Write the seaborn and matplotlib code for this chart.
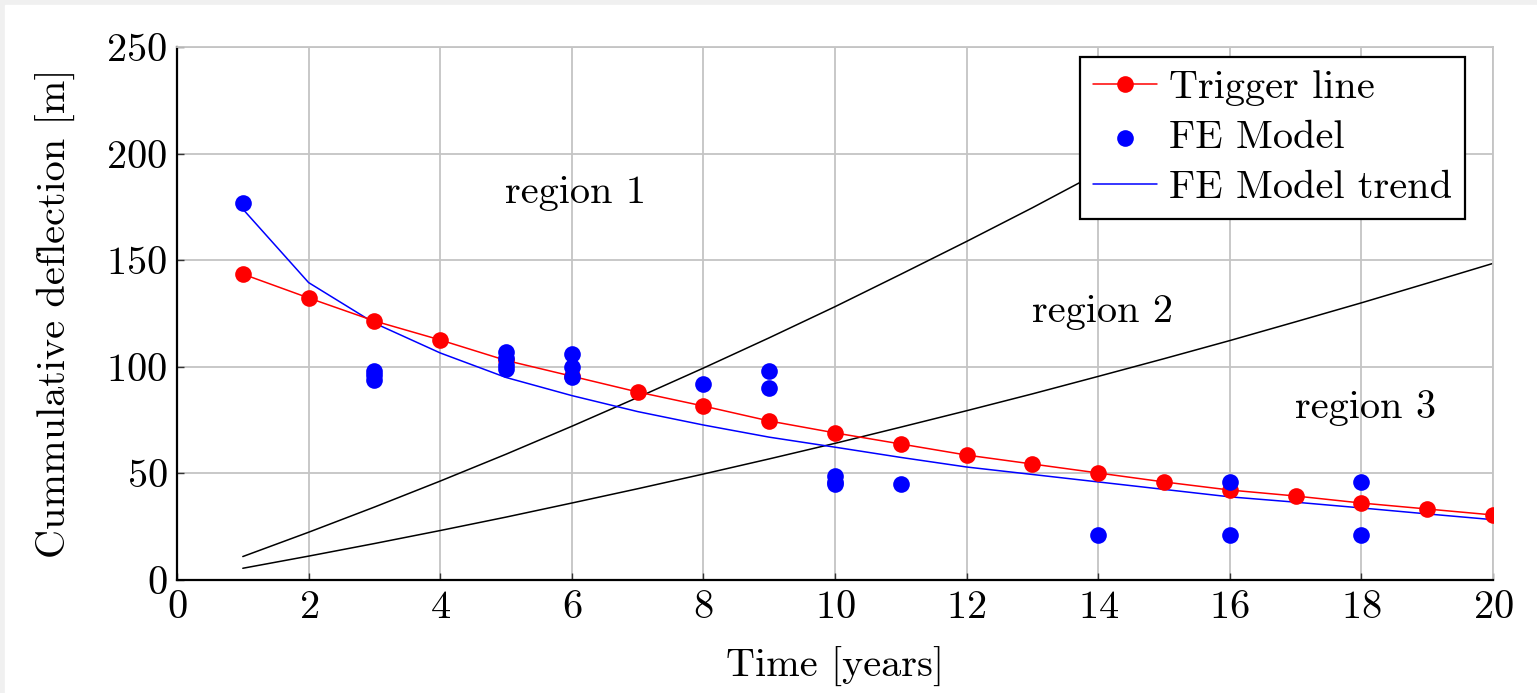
import numpy as np
import pandas as pd
import matplotlib
matplotlib.use("Agg")
import matplotlib.pyplot as plt
import seaborn as sns

# trigger line (red)
years = list(range(1, 21))
trigger = [143.5, 132.3, 121.5, 112.6, 103.0, 95.6, 88.2, 81.6, 74.6, 69.0,
           63.8, 58.6, 54.4, 50.2, 46.0, 42.2, 39.4, 36.1, 33.3, 30.5]

# FE model points (blue)
fe_x = [1, 3, 3, 3, 5, 5, 5, 5, 6, 6, 6, 8, 9, 9, 10, 10, 10, 11, 14, 16, 16, 18, 18]
fe_y = [177, 98, 96, 94, 107, 104, 101, 99, 106, 100, 95, 92, 98, 90, 49, 46, 45, 45, 21, 46, 21, 46, 21]

# FE model trend (blue line)
trend = [174, 139.5, 120.5, 106.5, 95.0, 86.5, 79.0, 72.7, 67.0, 62.3,
         57.5, 53.0, 49.5, 46.0, 42.5, 39.0, 36.5, 33.8, 31.0, 28.3]

# region boundaries (black); the upper one disappears behind the legend
bound_low = [5.5, 11.2, 17.1, 23.2, 29.5, 36.1, 42.8, 49.7, 56.8, 64.1,
             71.7, 79.4, 87.3, 95.5, 103.8, 112.3, 121.1, 130.0, 139.2, 148.5]
bound_high_x = list(range(1, 18))
bound_high = [11.0, 22.4, 34.2, 46.4, 59.0, 72.1, 85.6, 99.4, 113.6, 128.2,
              143.4, 158.8, 174.6, 191.0, 207.6, 224.6, 242.2]

regions = ["region 1", "region 2", "region 3"]
region_x = [6.06, 14.06, 18.07]
region_y = [181.5, 125.7, 80.7]

sns.set_style("whitegrid")
plt.rcParams["font.family"] = ["cmr10", "DejaVu Serif"]
plt.rcParams["axes.formatter.use_mathtext"] = True
plt.rcParams["mathtext.fontset"] = "cm"
plt.rcParams["text.color"] = "black"
plt.rcParams["axes.labelcolor"] = "black"
plt.rcParams["xtick.color"] = "black"
plt.rcParams["ytick.color"] = "black"

fig = plt.figure(figsize=(15.37, 6.93), dpi=100, facecolor="#f0f0f0")
bg = plt.Rectangle((5 / 1537, 0), 1, (693 - 5) / 693, transform=fig.transFigure,
                   color="white", zorder=-10)
fig.patches.append(bg)
ax = fig.add_axes([177 / 1537, 113 / 693, 1316 / 1537, 533 / 693])
ax.set_facecolor("white")

fs = 29
sns.lineplot(x=bound_high_x, y=bound_high, ax=ax, color="black", linewidth=1.1, zorder=2)
sns.lineplot(x=years, y=bound_low, ax=ax, color="black", linewidth=1.1, zorder=2)
sns.lineplot(x=years, y=trigger, ax=ax, color="red", linewidth=1.1, marker="o",
             markersize=12, markeredgewidth=0, label="Trigger line", zorder=4)
sns.scatterplot(x=fe_x, y=fe_y, ax=ax, color="blue", s=144, linewidth=0,
                label="FE Model", zorder=5)
sns.lineplot(x=years, y=trend, ax=ax, color="blue", linewidth=1.1,
             label="FE Model trend", zorder=3)

for name, rx, ry in zip(regions, region_x, region_y):
    ax.text(rx, ry, name, fontsize=fs, ha="center", va="center")

ax.set_xlim(0, 20)
ax.set_ylim(0, 250)
ax.set_xticks(range(0, 21, 2))
ax.set_yticks(range(0, 251, 50))
ax.grid(True, color="#c4c4c4", linewidth=1.3)
for side in ["top", "right"]:
    ax.spines[side].set_color("#c4c4c4")
    ax.spines[side].set_linewidth(1.3)
for side in ["left", "bottom"]:
    ax.spines[side].set_color("black")
    ax.spines[side].set_linewidth(1.6)
ax.tick_params(direction="in", length=5, width=1, color="#333333",
               labelsize=fs, pad=7, left=True, bottom=True)
ax.set_xlabel("Time [years]", fontsize=fs, labelpad=15)
ax.set_ylabel("Cummulative deflection [m]", fontsize=fs, labelpad=22)

leg = ax.legend(loc="upper right", bbox_to_anchor=(0.979, 0.981), borderaxespad=0,
                fontsize=fs, frameon=True, fancybox=False, handlelength=1.6,
                handletextpad=0.3, labelspacing=0.34, borderpad=0.32)
leg.get_frame().set_edgecolor("black")
leg.get_frame().set_linewidth(1.6)
leg.get_frame().set_alpha(1)
leg.set_zorder(10)

fig.savefig("out.png", dpi=100, facecolor=fig.get_facecolor())
